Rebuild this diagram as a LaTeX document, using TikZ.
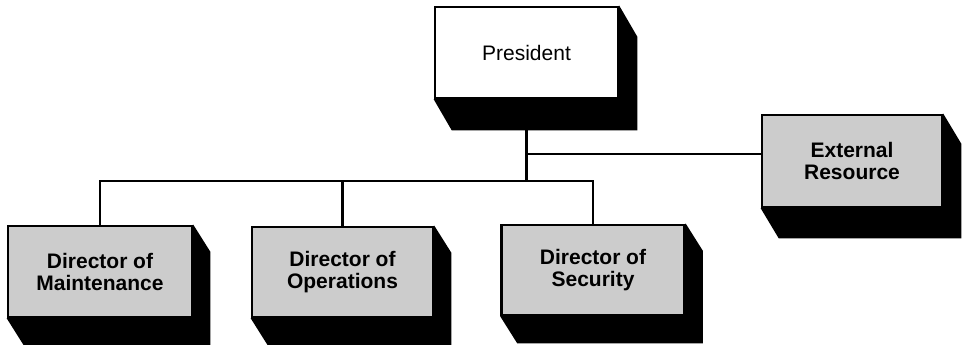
\documentclass[tikz,border=0pt]{standalone}
\usepackage{fontspec}
\setmainfont{Liberation Sans}
\usetikzlibrary{backgrounds}
\tikzset{
  box/.style={draw=black, line width=2.6pt, rectangle, align=center, inner sep=0pt,
    font=\fontsize{21}{22}\selectfont},
  plainbox/.style={box, fill=white},
  greybox/.style={box, fill=black!20, font=\fontsize{21}{22}\selectfont\bfseries},
  conn/.style={draw=black, line width=2.8pt, line cap=rect},
}
\newcommand{\boxshadow}[3]{%
  \fill[black] (#1.north east) -- ++(#2,#3) -- ([shift={(#2,#3)}]#1.south east)
    -- ([shift={(#2,#3)}]#1.south west) -- (#1.south west) -- cycle;}
\begin{document}
\begin{tikzpicture}[x=1pt,y=-1pt]
\useasboundingbox (0,0) rectangle (969,345);
\node[plainbox, minimum width=183pt, minimum height=91pt] (pres) at (526.5,52.5) {President};
\node[greybox, minimum width=180pt, minimum height=92pt] (ext) at (852,161) {External\\Resource};
\node[greybox, minimum width=184pt, minimum height=91pt] (maint) at (100,271.5) {Director of\\Maintenance};
\node[greybox, minimum width=181pt, minimum height=90pt] (ops) at (342.5,272) {Director of\\Operations};
\node[greybox, minimum width=183pt, minimum height=90pt] (sec) at (593,270) {Director of\\Security};
\coordinate (bus) at (526.5,181);
\begin{scope}[on background layer]
  \boxshadow{pres}{18}{31}
  \boxshadow{ext}{18}{30}
  \boxshadow{maint}{17}{27}
  \boxshadow{ops}{17}{27}
  \boxshadow{sec}{17}{27}
  \draw[conn] (pres.south) -- (bus);
  \draw[conn] (maint.north) |- (bus) -| (sec.north);
  \draw[conn] (ops.north) -- (ops.north |- bus);
  \draw[conn] (pres.south |- ext.west) ++(0,-7) -- ([yshift=7pt]ext.west);
\end{scope}
\end{tikzpicture}
\end{document}
